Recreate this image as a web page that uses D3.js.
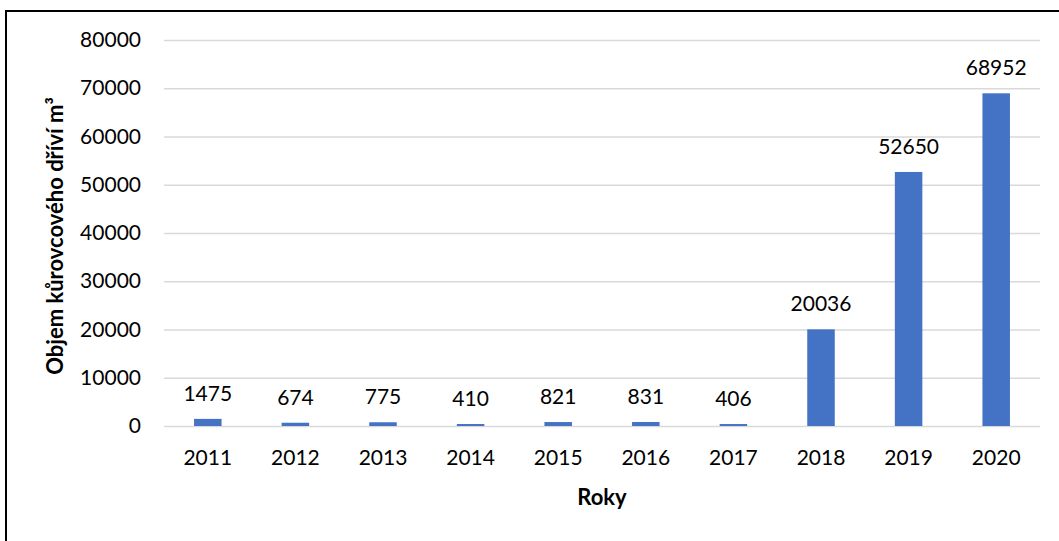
<!DOCTYPE html>
<html>
<head>
<meta charset="utf-8">
<script src="https://cdn.jsdelivr.net/npm/d3@7"></script>
<style>
  body { margin: 0; background: #fff; }
  svg { display: block; font-family: Lato, "Open Sans", sans-serif; }
  .tick text { font-size: 21px; fill: #000; font-family: Lato, sans-serif; }
  .grid line { stroke: #d9d9d9; stroke-width: 1.5; }
  .value-label { font-size: 21px; fill: #000; text-anchor: middle; }
  .axis-title { font-size: 22px; font-weight: bold; fill: #000; text-anchor: middle; }
</style>
</head>
<body>
<svg width="1059" height="541"></svg>
<script>
// Chart data
const years = ["2011", "2012", "2013", "2014", "2015", "2016", "2017", "2018", "2019", "2020"];
const volumes = [1475, 674, 775, 410, 821, 831, 406, 20036, 52650, 68952];
const yTicks = [0, 10000, 20000, 30000, 40000, 50000, 60000, 70000, 80000];

const svg = d3.select("svg");

// Outer frame (right and bottom edges fall outside the picture)
svg.append("rect")
    .attr("x", 6)
    .attr("y", 11)
    .attr("width", 1080)
    .attr("height", 560)
    .attr("fill", "none")
    .attr("stroke", "#000")
    .attr("stroke-width", 2);

const plot = {left: 164, right: 1040, top: 40, bottom: 426};

const x = d3.scaleBand()
    .domain(years)
    .range([plot.left, plot.right])
    .paddingInner(0.686)
    .paddingOuter(0.343);

const y = d3.scaleLinear()
    .domain([0, 80000])
    .range([plot.bottom, plot.top]);

// Gridlines + y tick labels
const yAxis = svg.append("g")
    .attr("class", "grid")
    .attr("transform", `translate(${plot.left},0)`)
    .call(d3.axisLeft(y)
        .tickValues(yTicks)
        .tickFormat(d3.format("d"))
        .tickSize(-(plot.right - plot.left))
        .tickPadding(23));
yAxis.select(".domain").remove();

// Bars
svg.selectAll(".bar")
    .data(volumes)
    .join("rect")
    .attr("class", "bar")
    .attr("x", (d, i) => x(years[i]))
    .attr("y", d => y(d))
    .attr("width", x.bandwidth())
    .attr("height", d => y(0) - y(d))
    .attr("fill", "#4472c4");

// Value labels
svg.selectAll(".value-label")
    .data(volumes)
    .join("text")
    .attr("class", "value-label")
    .attr("x", (d, i) => x(years[i]) + x.bandwidth() / 2)
    .attr("y", d => y(d) - 18)
    .text(d => d);

// X axis labels
const xAxis = svg.append("g")
    .attr("transform", `translate(0,${plot.bottom})`)
    .call(d3.axisBottom(x).tickSize(0).tickPadding(24));
xAxis.select(".domain").remove();

// Axis titles
svg.append("text")
    .attr("class", "axis-title")
    .attr("x", (plot.left + plot.right) / 2)
    .attr("y", 505)
    .text("Roky");

svg.append("text")
    .attr("class", "axis-title")
    .attr("transform", "translate(63,236) rotate(-90)")
    .text("Objem kůrovcového dříví m³");
</script>
</body>
</html>
